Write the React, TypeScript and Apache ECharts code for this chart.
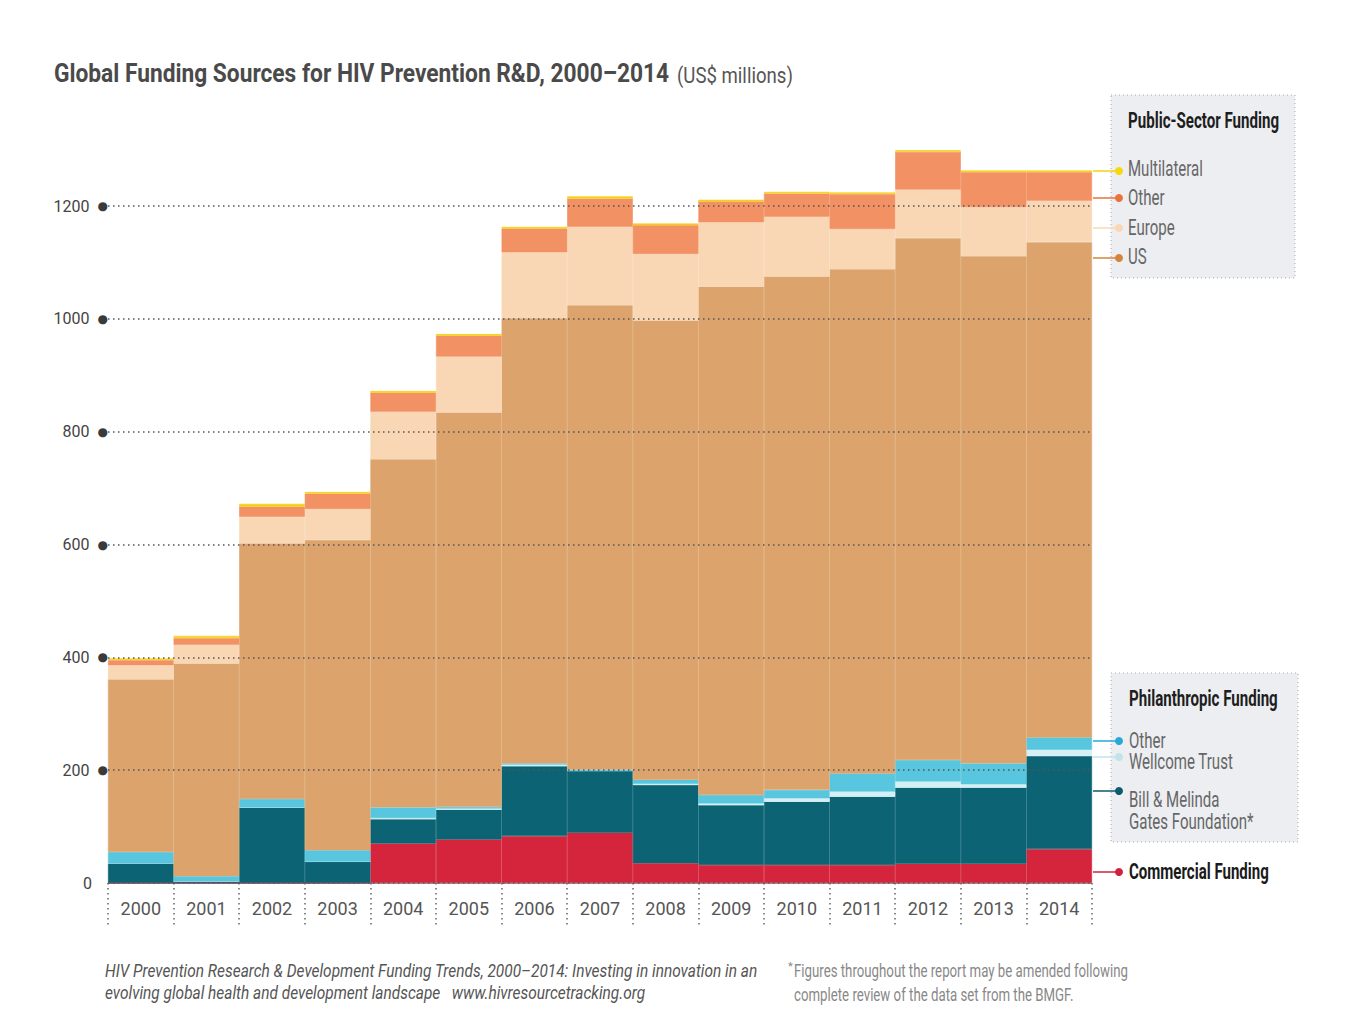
import React, { useEffect, useRef } from "react";
import * as echarts from "echarts";

const years = ["2000","2001","2002","2003","2004","2005","2006","2007","2008","2009","2010","2011","2012","2013","2014"];
const commercial = [0, 0, 0, 0, 70, 77, 83, 89, 35, 32, 32, 32, 34, 34, 60];
const gates = [35, 3, 134, 38, 43, 53, 124, 110, 139, 106, 112, 121, 135, 135, 165];
const wellcome = [0, 0, 0, 0, 2, 2, 3, 0, 2, 3, 6, 9, 11, 6, 11];
const philOther = [20, 9, 15, 20, 19, 3, 2, 2, 7, 15, 15, 32, 38, 37, 22];
const us = [306, 377, 453, 550, 617, 699, 789, 823, 814, 901, 910, 894, 925, 899, 878];
const europe = [25, 33, 47, 55, 84, 99, 117, 139, 118, 114, 106, 71, 86, 87, 73];
const pubOther = [9, 12, 18, 27, 34, 37, 42, 50, 51, 37, 41, 62, 67, 62, 51];
const multilateral = [3, 4, 5, 3, 3, 3, 3, 4, 3, 3, 3, 3, 3, 3, 3];

const FONT = "Roboto, 'Liberation Sans', sans-serif";

const seriesDefs = [
  { name: "Commercial Funding", data: commercial, color: "#d5253c" },
  { name: "Bill & Melinda Gates Foundation", data: gates, color: "#0b6373" },
  { name: "Wellcome Trust", data: wellcome, color: "#d4f0f5" },
  { name: "Philanthropic Other", data: philOther, color: "#57c6de" },
  { name: "US", data: us, color: "#dca46c" },
  { name: "Europe", data: europe, color: "#f9d7b5" },
  { name: "Public Other", data: pubOther, color: "#f29163" },
  { name: "Multilateral", data: multilateral, color: "#f6cf14" },
];

let measureCtx: CanvasRenderingContext2D | null = null;
function measure(text: string, size: number, weight: string, italic: boolean) {
  if (!measureCtx) measureCtx = document.createElement("canvas").getContext("2d");
  if (!measureCtx) return text.length * size * 0.5;
  measureCtx.font = `${italic ? "italic" : "normal"} ${weight} ${size}px ${FONT}`;
  return measureCtx.measureText(text).width;
}

function txt(x: number, y: number, text: string, size: number, fill: string, scaleX: number, weight = "normal", italic = false) {
  return {
    type: "text",
    x,
    y,
    z: 20,
    scaleX,
    style: {
      text,
      fill,
      fontSize: size,
      fontFamily: FONT,
      fontWeight: weight,
      fontStyle: italic ? "italic" : "normal",
      textAlign: "left",
      textVerticalAlign: "middle",
      align: "left",
      verticalAlign: "middle",
    },
  };
}

function connector(y: number, color: string, dot: string) {
  return [
    { type: "line", z: 20, shape: { x1: 1093, y1: y, x2: 1118, y2: y }, style: { stroke: color, lineWidth: 1.5 } },
    { type: "circle", z: 21, shape: { cx: 1119, cy: y, r: 4 }, style: { fill: dot } },
  ];
}

export default function App() {
  const ref = useRef<HTMLDivElement>(null);
  useEffect(() => {
    if (!ref.current) return;
    const chart = echarts.init(ref.current, null, { renderer: "svg" });

    const titleA = "Global Funding Sources for HIV Prevention R&D, 2000–2014";
    const titleB = "(US$ millions)";
    const sTitleA = 616 / measure(titleA, 26, "bold", false);
    const sTitleB = 116 / measure(titleB, 22, "normal", false);
    const sHead = 151 / measure("Public-Sector Funding", 22, "bold", false);
    const sItem = 75 / measure("Multilateral", 22, "normal", false);
    const sComm = 140 / measure("Commercial Funding", 22, "bold", false);
    const foot1 = "HIV Prevention Research & Development Funding Trends, 2000–2014: Investing in innovation in an";
    const foot2 = "evolving global health and development landscape   www.hivresourcetracking.org";
    const sFoot = 653 / measure(foot1, 18, "normal", true);
    const note1 = "Figures throughout the report may be amended following";
    const note2 = "complete review of the data set from the BMGF.";
    const sNote = 334 / measure(note1, 18, "normal", false);

    const option: any = {
      animation: false,
      backgroundColor: "#ffffff",
      grid: { left: 108, right: 272, top: 206, bottom: 140 },
      xAxis: {
        type: "category",
        data: years,
        axisLine: { show: true, lineStyle: { color: "#999", width: 1 } },
        axisTick: { show: true, interval: 0, length: 45, lineStyle: { color: "#666", width: 1.5, type: [1.5, 3.5] } },
        axisLabel: { interval: 0, margin: 16, fontFamily: FONT, fontSize: 18, color: "#555" },
      },
      yAxis: {
        type: "value",
        min: 0,
        max: 1200,
        interval: 200,
        z: 5,
        axisLine: { show: false },
        axisTick: { show: false },
        splitLine: { show: true, lineStyle: { color: "#555", width: 1.5, type: [1.5, 3.5] } },
        axisLabel: {
          margin: 0,
          formatter: (v: number) => (v === 0 ? `{z|0}` : `{n|${v}}{d|●}`),
          rich: {
            n: { fontFamily: FONT, fontSize: 16, color: "#444" },
            z: { fontFamily: FONT, fontSize: 16, color: "#444", padding: [0, 16, 0, 0] },
            d: { fontFamily: "DejaVu Sans", fontSize: 12, color: "#3a3a3a", padding: [0, 0, 0, 8] },
          },
        },
      },
      series: seriesDefs.map((s) => ({
        name: s.name,
        type: "bar",
        stack: "total",
        data: s.data,
        barCategoryGap: "0%",
        barWidth: "100%",
        clip: false,
        itemStyle: { color: s.color, borderColor: s.color, borderWidth: 0.6 },
        emphasis: { disabled: true },
      })),
      graphic: [
        txt(54, 73, titleA, 26, "#4a4a4a", sTitleA, "bold"),
        txt(677, 75, titleB, 22, "#555", sTitleB),
        { type: "rect", z: 10, shape: { x: 1111, y: 95, width: 184, height: 183 }, style: { fill: "#eceef1", stroke: "#aaa", lineWidth: 1, lineDash: [1, 3] } },
        { type: "rect", z: 10, shape: { x: 1111, y: 673, width: 187, height: 169 }, style: { fill: "#eceef1", stroke: "#aaa", lineWidth: 1, lineDash: [1, 3] } },
        txt(1128, 121, "Public-Sector Funding", 22, "#1e1e1e", sHead, "bold"),
        txt(1128, 169, "Multilateral", 22, "#666", sItem),
        txt(1128, 198, "Other", 22, "#666", sItem),
        txt(1128, 228, "Europe", 22, "#666", sItem),
        txt(1128, 257, "US", 22, "#666", sItem),
        ...connector(171, "#f6cf14", "#f5d90a"),
        ...connector(198, "#e8743b", "#e8743b"),
        ...connector(228, "#f9d7b5", "#f9d7b5"),
        ...connector(258, "#d4843c", "#d4843c"),
        txt(1129, 699, "Philanthropic Funding", 22, "#1e1e1e", sHead, "bold"),
        txt(1129, 741, "Other", 22, "#666", sItem),
        txt(1129, 762, "Wellcome Trust", 22, "#666", sItem),
        txt(1129, 800, "Bill & Melinda", 22, "#666", sItem),
        txt(1129, 822, "Gates Foundation*", 22, "#666", sItem),
        ...connector(741, "#29a8d8", "#29a8d8"),
        ...connector(757, "#c3e3ea", "#c3e3ea"),
        ...connector(791, "#0d5a6b", "#0d5a6b"),
        txt(1129, 872, "Commercial Funding", 22, "#1a1a1a", sComm, "bold"),
        ...connector(872, "#d0223a", "#d0223a"),
        txt(105, 971, foot1, 18, "#555", sFoot, "normal", true),
        txt(105, 993, foot2, 18, "#555", sFoot, "normal", true),
        txt(788, 966, "*", 11, "#888", 1),
        txt(794, 971, note1, 18, "#888", sNote),
        txt(794, 995, note2, 18, "#888", sNote),
      ],
    };
    chart.setOption(option);
    return () => chart.dispose();
  }, []);
  return <div ref={ref} style={{ position: "absolute", left: 0, top: 0, width: 1364, height: 1023 }} />;
}
